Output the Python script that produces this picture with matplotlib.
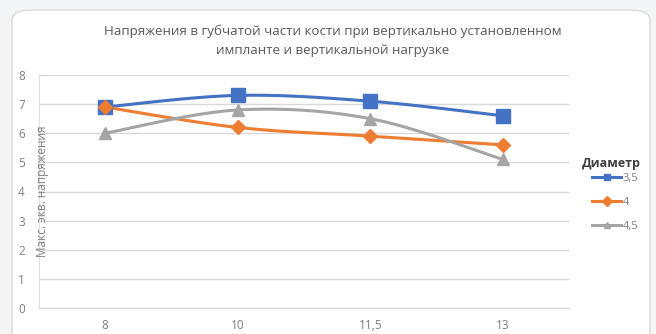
import numpy as np
import matplotlib
matplotlib.use("Agg")
import matplotlib.pyplot as plt
from matplotlib.patches import FancyBboxPatch
from matplotlib.lines import Line2D

plt.rcParams['font.family'] = ['Open Sans', 'DejaVu Sans']

categories = ["8", "10", "11,5", "13"]
series_names = ["3,5", "4", "4,5"]
values_35 = [6.9, 7.3, 7.1, 6.6]
values_4 = [6.9, 6.2, 5.9, 5.6]
values_45 = [6.0, 6.8, 6.5, 5.1]
y_ticks = [0, 1, 2, 3, 4, 5, 6, 7, 8]

title = "Напряжения в губчатой части кости при вертикально установленном\nимпланте и вертикальной нагрузке"
y_label = "Макс. экв. напряжения"
legend_title = "Диаметр"

colors = ["#4472C4", "#ED7D31", "#A5A5A5"]
markers = ["s", "D", "^"]
msizes = [10, 7, 9]

W, H = 656, 334
fig = plt.figure(figsize=(W / 100, H / 100), dpi=100)
fig.patch.set_facecolor("#f4f5f7")

# chart card with rounded corners
card = FancyBboxPatch((12 / W, -0.05), 638 / W, (H - 10) / H + 0.05,
                      boxstyle="round,pad=0,rounding_size=0.03",
                      transform=fig.transFigure, facecolor="white",
                      edgecolor="#d9d9d9", linewidth=1.0, zorder=-5)
fig.patches.append(card)


def smooth(xs, ys, n=30):
    """Catmull-Rom spline through the points."""
    pts = np.column_stack([xs, ys]).astype(float)
    out = []
    t = np.linspace(0, 1, n)[:, None]
    last = len(pts) - 1
    for i in range(last):
        p0 = pts[max(i - 1, 0)]
        p1 = pts[i]
        p2 = pts[i + 1]
        p3 = pts[min(i + 2, last)]
        m1 = (p2 - p0) / 2
        m2 = (p3 - p1) / 2
        h00 = 2 * t**3 - 3 * t**2 + 1
        h10 = t**3 - 2 * t**2 + t
        h01 = -2 * t**3 + 3 * t**2
        h11 = t**3 - t**2
        out.append(h00 * p1 + h10 * m1 + h01 * p2 + h11 * m2)
    out = np.vstack(out)
    return out[:, 0], out[:, 1]


ax = fig.add_axes([38.7 / W, 26 / H, 530.6 / W, 233 / H])
ax.set_facecolor("white")
ax.set_xlim(-0.5, len(categories) - 0.5)
ax.set_ylim(0, 8)
ax.set_yticks(y_ticks)
ax.set_xticks(range(len(categories)))
ax.set_xticklabels(categories)
ax.grid(axis="y", color="#d9d9d9", linewidth=1)
ax.set_axisbelow(True)
for s in ["top", "right"]:
    ax.spines[s].set_visible(False)
ax.spines["left"].set_color("#e0e0e0")
ax.spines["bottom"].set_color("#d9d9d9")
ax.tick_params(length=0, colors="#7f7f7f", labelsize=8.5)
ax.tick_params(axis="y", pad=10)
ax.tick_params(axis="x", pad=8)

x = np.arange(len(categories))
handles = []
for vals, c, m, ms in zip([values_35, values_4, values_45], colors, markers, msizes):
    sx, sy = smooth(x, vals)
    ax.plot(sx, sy, color=c, linewidth=2.2, solid_capstyle="round", zorder=3)
    ax.plot(x, vals, linestyle="none", marker=m, markersize=ms, color=c, zorder=4)
    handles.append(Line2D([0], [0], color=c, linewidth=2.2, marker=m, markersize=5))

ax.text(-0.47, 4.0, y_label, rotation=90, ha="center", va="center",
        fontsize=8.5, color="#7f7f7f", zorder=5)

fig.text(333 / W, 1 - 41 / H, title, ha="center", va="center", fontsize=9.6,
         color="#595959", linespacing=1.6)

# legend: title as separate text, entries below
fig.text(641 / W, 1 - 164 / H, legend_title, ha="right", va="center",
         fontsize=9, fontweight="bold", color="#404040")
leg = fig.legend(handles=handles, labels=series_names,
                 loc="upper right", bbox_to_anchor=(638 / W, 1 - 173 / H),
                 frameon=False, fontsize=8,
                 handlelength=2.6, handletextpad=0.1, labelspacing=1.17,
                 alignment="right", borderaxespad=0, borderpad=0)
for t in leg.get_texts():
    t.set_color("#7f7f7f")

fig.savefig("out.png", dpi=100, facecolor=fig.get_facecolor())
